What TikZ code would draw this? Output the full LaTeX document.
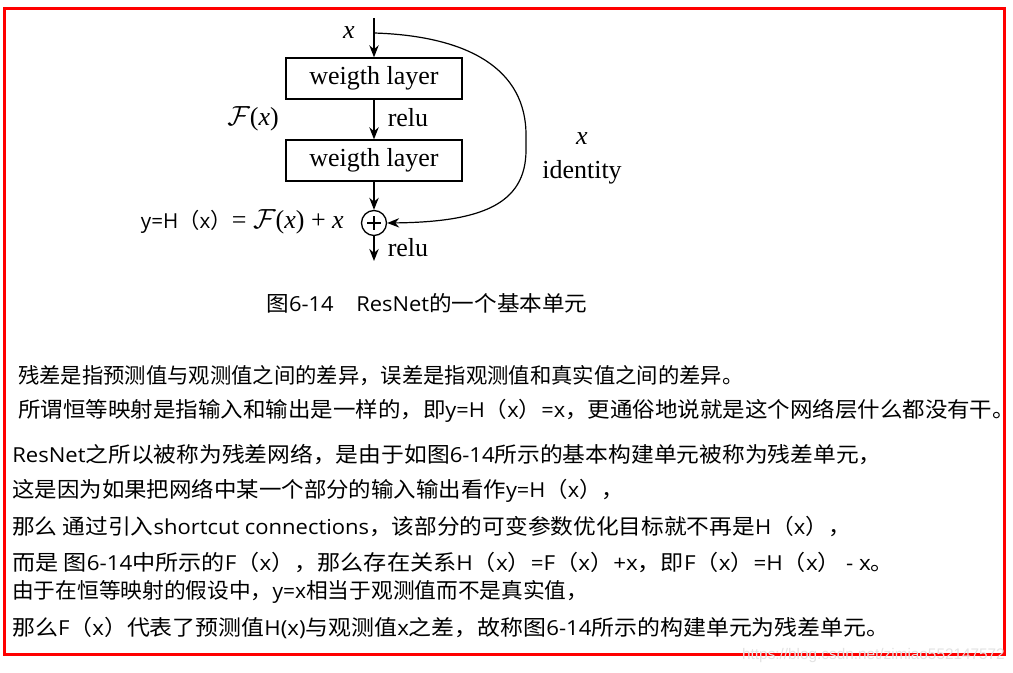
\documentclass[tikz,border=0pt]{standalone}
\usepackage{graphicx}
\usepackage{fontspec}
\newfontfamily\cjk{Noto Sans CJK SC}
\newfontfamily\serif{Liberation Serif}
\newfontfamily\latfont{Open Sans}
\newfontfamily\wmfont{Liberation Sans}
\usetikzlibrary{arrows.meta}
\newcommand{\bodysize}{\fontsize{16}{18}\selectfont}
\newcommand{\dsize}{\fontsize{19.5}{22}\selectfont}
\newcommand{\latn}[1]{{\latfont\fontsize{15.5}{18}\selectfont #1}}
\newcommand{\xs}[2]{\scalebox{#1}[1]{#2}}
\begin{document}
\begin{tikzpicture}[x=0.75pt,y=-0.75pt,
  lbl/.style={font=\serif\dsize, inner sep=0pt},
  layer/.style={draw, line width=1pt, minimum width=132pt, minimum height=30.75pt, inner sep=0pt, font=\serif\dsize},
  tip/.style={-{Stealth[length=9pt,width=7pt]}},
  flow/.style={line width=1.2pt, tip},
  body/.style={anchor=west, inner sep=0pt, font=\cjk\bodysize}]
\useasboundingbox (0,0) rectangle (1013,673);
\fill[white] (0,0) rectangle (1013,673);
\draw[red, line width=2.25pt] (4.5,8.5) rectangle (1004.5,654.5);

% diagram
\coordinate (in) at (374,18);
\coordinate (split) at (374,33);
\node[layer] (w1) at (374,78.5) {weigth layer};
\node[layer] (w2) at (374,160.5) {weigth layer};
\node[draw, circle, line width=1pt, minimum size=18.75pt, inner sep=0pt] (plus) at (374,223) {};
\draw[line width=1pt] ([xshift=-5pt]plus.center) -- ([xshift=5pt]plus.center) ([yshift=-5pt]plus.center) -- ([yshift=5pt]plus.center);
\coordinate (out) at (374,261);

\draw[flow] (in) -- (w1.north);
\draw[flow] (w1.south) -- (w2.north);
\draw[flow] (w2.south) -- (plus.north);
\draw[flow] (plus.south) -- (out);
\draw[line width=0.9pt, tip] (split) .. controls (470,36) and (526,70) .. (526,135) -- (526,150) .. controls (526,205) and (480,222) .. (plus.east);

\node[lbl] (xin) at (349,33) {\itshape x};
\node[lbl] (relu1) at (408,118) {relu};
\node[lbl] (fx) at (253,119) {$\mathcal{F}$(\textit{x})};
\node[lbl] (relu2) at (408,248) {relu};
\node[lbl] (xid) at (582,139) {\itshape x};
\node[lbl] (id) at (582,172) {identity};
\node[lbl, anchor=east] (eq) at (344,222) {{\cjk\bodysize\latn{y=H}（\latn{x}）}= $\mathcal{F}$(\textit{x}) + \textit{x}};

% caption
\node[inner sep=0pt, font=\cjk\bodysize] (cap) at (427,303) {\xs{1.06}{图\latn{6-14}　\latn{ResNet}的一个基本单元}};

% body text
\node[body] (l1) at (18,376) {残差是指预测值与观测值之间的差异，误差是指观测值和真实值之间的差异。};
\node[body] (l2) at (18,411) {\xs{1.054}{所谓恒等映射是指输入和输出是一样的，即\latn{y=H}（\latn{x}）\latn{=x}，更通俗地说就是这个网络层什么都没有干。}};
\node[body] (l3) at (12,455) {\xs{1.067}{\latn{ResNet}之所以被称为残差网络，是由于如图\latn{6-14}所示的基本构建单元被称为残差单元，}};
\node[body] (l4) at (12,491) {\xs{1.052}{这是因为如果把网络中某一个部分的输入输出看作\latn{y=H}（\latn{x}），}};
\node[body] (l5) at (12,527) {\xs{1.064}{那么 通过引入\latn{shortcut connections}，该部分的可变参数优化目标就不再是\latn{H}（\latn{x}），}};
\node[body] (l6) at (12,563) {\xs{1.084}{而是 图\latn{6-14}中所示的\latn{F}（\latn{x}），那么存在关系\latn{H}（\latn{x}）\latn{=F}（\latn{x}）\latn{+x}，即\latn{F}（\latn{x}）\latn{=H}（\latn{x}） \latn{- x}。}};
\node[body] (l7) at (12,592) {\xs{1.017}{由于在恒等映射的假设中，\latn{y=x}相当于观测值而不是真实值，}};
\node[body] (l8) at (12,628) {\xs{1.074}{那么\latn{F}（\latn{x}）代表了预测值\latn{H(x)}与观测值\latn{x}之差，故称图\latn{6-14}所示的构建单元为残差单元。}};

% watermark
\node[anchor=east, inner sep=0pt, text=gray!22, font=\wmfont\fontsize{11.5}{12}\selectfont] (wm) at (1005,656) {https://blog.csdn.net/zimiao552147572};
\end{tikzpicture}
\end{document}
